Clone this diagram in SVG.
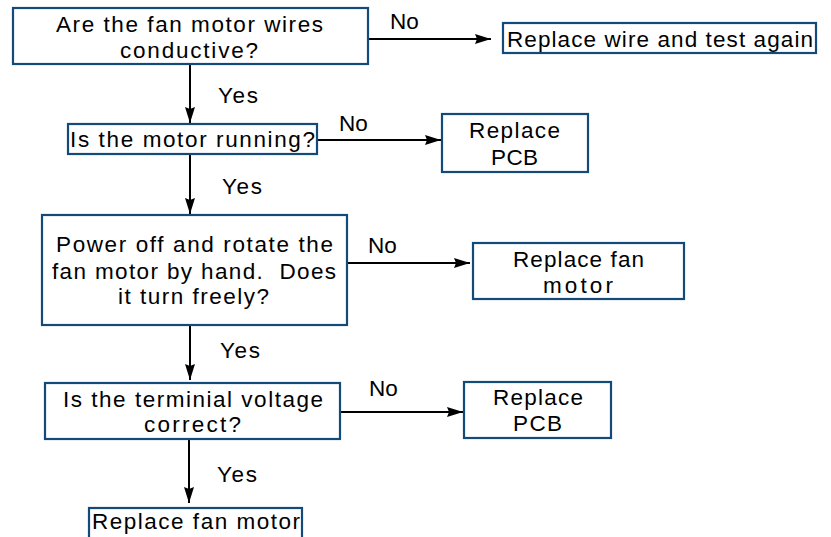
<svg xmlns="http://www.w3.org/2000/svg" width="831" height="537" viewBox="0 0 831 537">
<defs>
<marker id="ah" markerUnits="userSpaceOnUse" markerWidth="16" markerHeight="12" refX="16" refY="6" orient="auto">
<path d="M0,1 L16,6 L0,11 L2,6 Z" fill="#000"/>
</marker>
<style>
.box{fill:#fff;stroke:#124a7a;stroke-width:2.2}
.t{font-family:"Liberation Sans",Arial,sans-serif;font-size:22.5px;fill:#000;text-anchor:middle}
.l{font-family:"Liberation Sans",Arial,sans-serif;font-size:22.5px;fill:#000}
.c{stroke:#000;stroke-width:2;fill:none;marker-end:url(#ah)}
</style>
</defs>
<rect width="831" height="537" fill="#fff"/>
<g id="connectors">
<line class="c" x1="368" y1="39" x2="491" y2="39"/>
<line class="c" x1="190" y1="64" x2="190" y2="123"/>
<line class="c" x1="317" y1="140" x2="441" y2="140"/>
<line class="c" x1="190" y1="154" x2="190" y2="214"/>
<line class="c" x1="347" y1="263" x2="470" y2="263"/>
<line class="c" x1="190" y1="325" x2="190" y2="380"/>
<line class="c" x1="340" y1="412" x2="463" y2="412"/>
<line class="c" x1="189" y1="439" x2="189" y2="503"/>
<text class="l" x="390" y="29">No</text>
<text class="l" x="218" y="103" textLength="40">Yes</text>
<text class="l" x="339" y="131">No</text>
<text class="l" x="222" y="194" textLength="40">Yes</text>
<text class="l" x="368" y="253">No</text>
<text class="l" x="220" y="358" textLength="40">Yes</text>
<text class="l" x="369" y="396">No</text>
<text class="l" x="217" y="482" textLength="40">Yes</text>
</g>
<g id="q1">
<rect class="box" x="13" y="8" width="355" height="56"/>
<text class="t" x="189.5" y="32" textLength="267">Are the fan motor wires</text>
<text class="t" x="189" y="58" textLength="138">conductive?</text>
</g>
<g id="r1">
<rect class="box" x="503" y="23" width="313" height="30"/>
<text class="t" x="660" y="47" textLength="306">Replace wire and test again</text>
</g>
<g id="q2">
<rect class="box" x="68" y="124" width="249" height="30"/>
<text class="t" x="192.5" y="147" textLength="245">Is the motor running?</text>
</g>
<g id="r2">
<rect class="box" x="442" y="114" width="146" height="58"/>
<text class="t" x="514.5" y="138" textLength="91">Replace</text>
<text class="t" x="514.5" y="165" textLength="47">PCB</text>
</g>
<g id="q3">
<rect class="box" x="42" y="215" width="305" height="110"/>
<text class="t" x="194.5" y="252" textLength="277">Power off and rotate the</text>
<text class="t" x="194" y="279" textLength="284" xml:space="preserve">fan motor by hand.  Does</text>
<text class="t" x="193.5" y="304" textLength="151">it turn freely?</text>
</g>
<g id="r3">
<rect class="box" x="473" y="243" width="211" height="56"/>
<text class="t" x="578.5" y="267" textLength="131">Replace fan</text>
<text class="t" x="578" y="293" textLength="70">motor</text>
</g>
<g id="q4">
<rect class="box" x="45" y="383" width="295" height="56"/>
<text class="t" x="193" y="407" textLength="260">Is the terminial voltage</text>
<text class="t" x="192.5" y="432" textLength="97">correct?</text>
</g>
<g id="r4">
<rect class="box" x="464" y="382" width="147" height="56"/>
<text class="t" x="538" y="405" textLength="90">Replace</text>
<text class="t" x="537.5" y="431" textLength="49">PCB</text>
</g>
<g id="r5">
<rect class="box" x="89" y="508" width="213" height="32"/>
<text class="t" x="196" y="529" textLength="208">Replace fan motor</text>
</g>
</svg>
